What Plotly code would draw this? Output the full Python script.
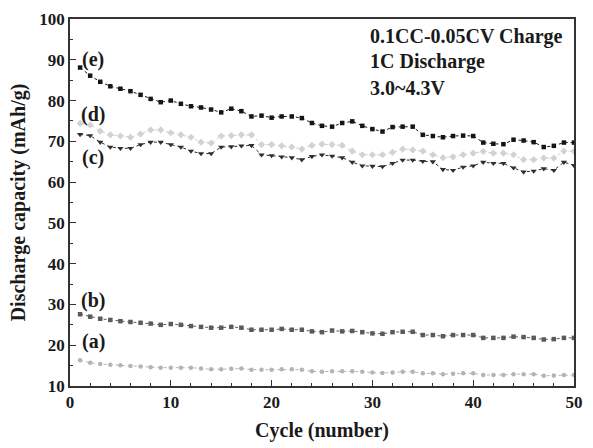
import plotly.graph_objects as go

cycles = list(range(1, 51))

cap_e = [88.1, 86.1, 84.6, 83.5, 82.9, 82.3, 81.4, 80.4, 79.6, 80.0,
         79.2, 78.6, 78.3, 77.8, 77.1, 78.0, 77.4, 76.1, 76.3, 75.8,
         76.1, 76.1, 75.7, 74.5, 73.8, 73.6, 74.5, 74.9, 73.8, 73.0,
         72.4, 73.5, 73.6, 73.6, 71.6, 71.3, 71.0, 71.3, 71.4, 71.3,
         69.7, 69.4, 69.3, 70.4, 70.2, 69.8, 68.6, 68.9, 69.7, 69.7]

cap_d = [74.4, 74.0, 72.5, 71.6, 71.3, 71.0, 71.8, 72.8, 72.8, 72.1,
         71.6, 71.0, 69.8, 69.6, 71.3, 71.4, 71.6, 71.6, 69.2, 69.2,
         68.9, 68.6, 68.1, 69.0, 69.3, 69.2, 69.0, 67.6, 66.7, 66.7,
         66.7, 67.3, 68.1, 67.9, 67.6, 66.7, 66.0, 66.2, 66.7, 67.1,
         67.5, 67.1, 67.1, 66.7, 65.5, 65.5, 65.9, 65.9, 67.6, 67.6]

cap_c = [71.7, 71.4, 69.8, 68.6, 68.3, 68.3, 69.2, 69.8, 69.8, 69.2,
         68.6, 67.6, 67.0, 67.0, 68.6, 68.7, 68.9, 69.0, 66.7, 66.5,
         66.2, 66.0, 65.5, 66.3, 66.7, 66.4, 66.0, 64.9, 64.0, 63.9,
         63.8, 64.6, 65.4, 65.4, 65.1, 65.0, 63.1, 62.9, 63.7, 64.0,
         64.9, 64.6, 64.6, 63.5, 62.5, 62.7, 63.3, 62.9, 64.9, 64.1]

cap_b = [27.6, 27.0, 26.5, 26.2, 25.9, 25.7, 25.5, 25.3, 25.0, 25.2,
         25.0, 24.7, 24.5, 24.3, 24.3, 24.5, 24.3, 23.8, 23.8, 23.8,
         24.0, 23.8, 23.8, 23.4, 23.2, 23.6, 23.4, 23.5, 23.2, 22.9,
         22.8, 23.2, 23.3, 23.3, 22.5, 22.5, 22.2, 22.5, 22.5, 22.5,
         21.8, 21.8, 21.8, 22.1, 22.0, 21.8, 21.4, 21.5, 21.8, 21.8]

cap_a = [16.3, 15.7, 15.4, 15.2, 15.1, 14.9, 14.8, 14.6, 14.5, 14.5,
         14.5, 14.5, 14.3, 14.1, 14.1, 14.2, 14.3, 14.0, 14.0, 14.0,
         14.1, 14.1, 14.0, 13.6, 13.5, 13.6, 13.6, 13.6, 13.5, 13.3,
         13.2, 13.3, 13.5, 13.5, 13.1, 13.1, 12.9, 13.0, 13.1, 13.1,
         12.7, 12.7, 12.7, 12.9, 12.9, 12.9, 12.5, 12.6, 12.7, 12.7]

series_labels = ["(e)", "(d)", "(c)", "(b)", "(a)"]
label_y = [90, 76.7, 66, 31, 21]
notes = ["0.1CC-0.05CV Charge", "1C Discharge", "3.0~4.3V"]

SERIF = "Liberation Serif, Times New Roman, serif"

styles = [
    (cap_e, "#151515", "square", 4.5),
    (cap_d, "#d2d2d2", "diamond", 5.5),
    (cap_c, "#2e2e2e", "triangle-down", 5.5),
    (cap_b, "#5a5a5a", "square", 4.5),
    (cap_a, "#b4b4b4", "circle", 4.5),
]

fig = go.Figure()
for vals, col, sym, sz in styles:
    fig.add_trace(go.Scatter(
        x=cycles, y=vals, mode="lines+markers",
        line=dict(color=col, width=1, dash="dot"),
        marker=dict(color=col, symbol=sym, size=sz),
        showlegend=False,
    ))

for lab, ly in zip(series_labels, label_y):
    fig.add_annotation(x=2.3, y=ly, text="<b>" + lab + "</b>", showarrow=False,
                       xref="x", yref="y", xanchor="center", yanchor="middle",
                       font=dict(family=SERIF, size=20, color="#1a1a1a"))

note_y = [0.952, 0.884, 0.812]
for t, ny in zip(notes, note_y):
    fig.add_annotation(x=0.592, y=ny, text="<b>" + t + "</b>", showarrow=False,
                       xref="paper", yref="paper", xanchor="left", yanchor="middle",
                       font=dict(family=SERIF, size=20, color="#1a1a1a"))

axis_common = dict(
    showline=True, linecolor="#333", linewidth=1.6, mirror=True,
    ticks="inside", tickcolor="#333", ticklen=6, tickwidth=1.2,
    showgrid=False, zeroline=False,
    tickfont=dict(family=SERIF, size=17, color="#1a1a1a", weight="bold"),
)

fig.update_xaxes(range=[0, 50], dtick=10, tick0=0,
                 minor=dict(dtick=2, ticks="inside", ticklen=3, tickcolor="#333"),
                 title=dict(text="<b>Cycle (number)</b>", standoff=12,
                            font=dict(family=SERIF, size=20, color="#1a1a1a")),
                 **axis_common)
fig.update_yaxes(range=[10, 100], dtick=10, tick0=0,
                 minor=dict(dtick=5, ticks="inside", ticklen=3, tickcolor="#333"),
                 title=dict(text="<b>Discharge capacity (mAh/g)</b>", standoff=8,
                            font=dict(family=SERIF, size=20, color="#1a1a1a")),
                 **axis_common)

fig.update_layout(
    width=593, height=448,
    margin=dict(l=70, r=11, t=10, b=60),
    paper_bgcolor="white", plot_bgcolor="white",
)

fig.write_html("out.html")
